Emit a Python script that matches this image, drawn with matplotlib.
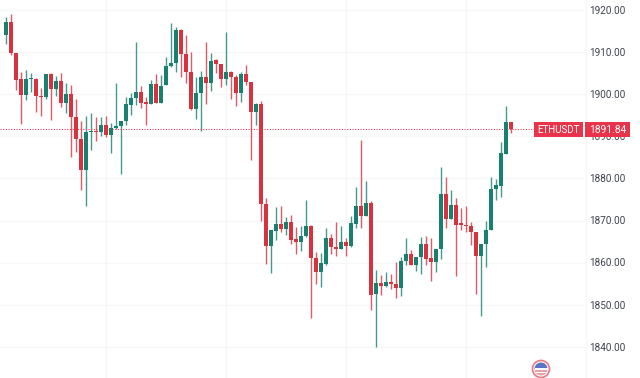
import matplotlib
matplotlib.use('Agg')
import matplotlib.pyplot as plt
from matplotlib.patches import Circle, Rectangle, Wedge

opens = [1914.1, 1917.2, 1909.8, 1903.6, 1899.8, 1903.6, 1903.6, 1899.6, 1899.3, 1904.8,
         1901.2, 1903.1, 1897.9, 1900.0, 1894.6, 1889.4, 1882.0, 1891.0, 1891.3, 1891.0,
         1892.7, 1890.3, 1892.0, 1892.5, 1893.6, 1897.4, 1899.1, 1900.5, 1897.9, 1897.7,
         1902.4, 1897.9, 1902.2, 1906.7, 1907.4, 1915.2, 1909.5, 1905.3, 1896.5, 1900.3,
         1904.1, 1902.7, 1908.1, 1907.2, 1903.6, 1905.3, 1904.1, 1900.3, 1904.8, 1902.9,
         1895.8, 1897.7, 1873.9, 1864.0, 1867.5, 1869.2, 1868.0, 1869.7, 1865.6, 1864.9,
         1866.3, 1868.7, 1861.1, 1857.8, 1859.7, 1865.9, 1863.7, 1863.3, 1864.9, 1864.0,
         1869.2, 1873.5, 1871.1, 1874.2, 1852.6, 1855.2, 1854.5, 1855.4, 1855.0, 1854.0,
         1860.4, 1862.1, 1859.5, 1861.4, 1864.4, 1861.1, 1860.2, 1863.3, 1876.3, 1870.4,
         1873.7, 1869.2, 1869.0, 1868.7, 1867.3, 1861.6, 1864.4, 1867.8, 1877.5, 1878.2,
         1885.8, 1893.4]
closes = [1917.2, 1909.8, 1903.4, 1899.8, 1903.6, 1903.9, 1899.6, 1899.3, 1904.8, 1901.2,
          1903.1, 1897.9, 1900.0, 1894.6, 1889.4, 1882.0, 1891.0, 1891.3, 1891.0, 1892.7,
          1890.3, 1892.0, 1892.5, 1893.6, 1897.7, 1899.1, 1900.5, 1897.9, 1897.7, 1902.4,
          1897.9, 1902.0, 1906.7, 1907.4, 1915.2, 1909.5, 1905.3, 1896.5, 1900.3, 1904.1,
          1902.7, 1907.9, 1907.2, 1903.6, 1905.3, 1904.1, 1900.3, 1904.8, 1902.9, 1895.8,
          1897.7, 1873.9, 1864.0, 1867.8, 1869.2, 1868.0, 1869.7, 1865.4, 1864.9, 1866.3,
          1868.7, 1861.1, 1857.8, 1859.9, 1865.9, 1863.7, 1863.3, 1864.9, 1864.0, 1869.4,
          1873.5, 1871.1, 1874.2, 1852.3, 1855.2, 1854.5, 1855.4, 1855.0, 1854.0, 1860.4,
          1862.1, 1859.5, 1861.4, 1864.4, 1860.9, 1860.2, 1863.3, 1876.3, 1870.4, 1873.7,
          1869.0, 1869.0, 1868.7, 1867.3, 1861.6, 1864.4, 1867.8, 1877.5, 1878.5, 1886.0,
          1893.4, 1891.7]
highs = [1918.3, 1919.0, 1909.8, 1905.3, 1905.8, 1905.0, 1903.9, 1901.5, 1904.8, 1905.0,
         1904.3, 1905.0, 1902.7, 1902.2, 1898.9, 1893.6, 1894.8, 1895.5, 1894.6, 1894.6,
         1894.8, 1893.2, 1902.7, 1893.6, 1899.3, 1900.3, 1912.4, 1902.0, 1899.3, 1903.4,
         1904.8, 1904.6, 1908.8, 1916.9, 1916.0, 1915.5, 1914.1, 1910.0, 1904.1, 1905.5,
         1912.4, 1909.8, 1908.4, 1907.2, 1914.8, 1905.5, 1904.6, 1905.3, 1906.9, 1902.9,
         1897.9, 1898.4, 1875.4, 1867.8, 1873.2, 1873.5, 1870.9, 1871.3, 1868.5, 1868.7,
         1874.9, 1869.0, 1862.5, 1862.3, 1868.2, 1866.8, 1869.7, 1868.7, 1865.9, 1871.1,
         1878.0, 1889.1, 1879.4, 1874.7, 1858.2, 1857.1, 1857.8, 1857.3, 1860.2, 1861.4,
         1865.9, 1863.0, 1861.4, 1866.1, 1866.3, 1865.9, 1863.3, 1882.7, 1880.4, 1877.3,
         1875.4, 1873.0, 1873.5, 1869.7, 1867.3, 1864.4, 1869.9, 1880.4, 1879.9, 1888.7,
         1897.2, 1893.4]
lows = [1911.9, 1909.3, 1901.0, 1892.9, 1898.6, 1900.5, 1895.8, 1894.8, 1898.9, 1893.9,
        1899.6, 1897.0, 1895.5, 1885.1, 1886.3, 1877.3, 1873.5, 1886.8, 1888.9, 1890.1,
        1889.8, 1886.0, 1891.7, 1881.1, 1892.7, 1895.1, 1897.4, 1896.7, 1892.7, 1897.7,
        1897.9, 1897.9, 1902.2, 1906.5, 1905.3, 1904.1, 1902.7, 1896.3, 1894.1, 1891.3,
        1897.7, 1900.8, 1905.0, 1901.7, 1902.2, 1898.9, 1897.2, 1898.2, 1902.2, 1884.4,
        1892.7, 1869.9, 1859.7, 1857.6, 1865.4, 1867.3, 1866.6, 1864.4, 1862.1, 1862.8,
        1866.1, 1846.9, 1855.0, 1854.2, 1859.5, 1862.1, 1861.6, 1863.3, 1861.6, 1863.7,
        1868.2, 1868.2, 1871.1, 1848.8, 1840.0, 1852.3, 1854.2, 1853.8, 1851.6, 1852.1,
        1859.5, 1859.5, 1858.0, 1857.3, 1859.5, 1855.7, 1857.8, 1860.9, 1868.2, 1870.4,
        1856.8, 1867.8, 1867.3, 1864.2, 1852.6, 1847.4, 1859.0, 1867.8, 1874.9, 1875.6,
        1885.8, 1890.8]
price_ticks = [1840, 1850, 1860, 1870, 1880, 1890, 1900, 1910, 1920]
time_grid = [20, 44, 68, 92, 116]
symbol = 'ETHUSDT'
last_price = 1891.84

GREEN = '#17806f'
RED = '#d8323f'
LABEL_RED = '#e8334a'

plt.rcParams['font.family'] = ['Roboto', 'DejaVu Sans']

fig = plt.figure(figsize=(6.4, 3.78), dpi=100)
ax = fig.add_axes([0, 0, 1, 1])
ax.set_xlim(-1.2, 126.8)
ax.set_ylim(1832.6, 1922.37)
ax.axis('off')

# faint grid, stops where the price scale starts
for p in price_ticks:
    ax.plot([-1.2, 115.8], [p, p], color='#f6f7f8', lw=0.9, zorder=1)
for t in time_grid:
    ax.axvline(t, color='#f6f7f8', lw=0.9, zorder=1)

x = list(range(len(opens)))
colors = [GREEN if c >= o else RED for o, c in zip(opens, closes)]
heights = [max(abs(c - o), 0.35) for o, c in zip(opens, closes)]
bottoms = [min(o, c) for o, c in zip(opens, closes)]
ax.vlines(x, lows, highs, colors=colors, lw=1.0, alpha=0.8, zorder=2)
ax.bar(x, heights, bottom=bottoms, width=0.85, color=colors, lw=0, zorder=3)

ax.plot([-1.2, 105.6], [last_price, last_price], color='#ee3b50', lw=0.8, ls=(0, (1, 1.4)), zorder=2)

for p in price_ticks:
    ax.text(0.978, p - 0.2, '%.2f' % p, transform=ax.get_yaxis_transform(), ha='right', va='center',
            fontsize=7.2, color='#3f434c', zorder=4)

# overlay in pixel coordinates for the labels and the flag
ov = fig.add_axes([0, 0, 1, 1], facecolor='none')
ov.set_xlim(0, 640)
ov.set_ylim(378, 0)
ov.axis('off')
ov.add_patch(Rectangle((534, 122), 49, 15, color=LABEL_RED, lw=0, zorder=5))
ov.add_patch(Rectangle((584.5, 122), 45.5, 15, color=LABEL_RED, lw=0, zorder=5))
ov.text(558.5, 129.8, symbol, ha='center', va='center', fontsize=7, color='white', zorder=6)
ov.text(607.5, 129.8, '%.2f' % last_price, ha='center', va='center', fontsize=7.4, color='white', zorder=6)

ov.add_patch(Circle((541, 369), 8.5, fc='white', ec='#e58088', lw=1.3, zorder=5))
ov.add_patch(Wedge((541, 369), 6.5, 180, 360, fc='#5b73c4', lw=0, zorder=6))
ov.add_patch(Wedge((541, 369), 6.5, 0, 180, fc='#e9a2a8', lw=0, zorder=6))
ov.add_patch(Rectangle((534.5, 368), 13, 1.6, color='white', lw=0, zorder=7))
ov.add_patch(Rectangle((535.5, 372), 11, 1.2, color='white', lw=0, zorder=7))

fig.savefig('out.png', dpi=100)
